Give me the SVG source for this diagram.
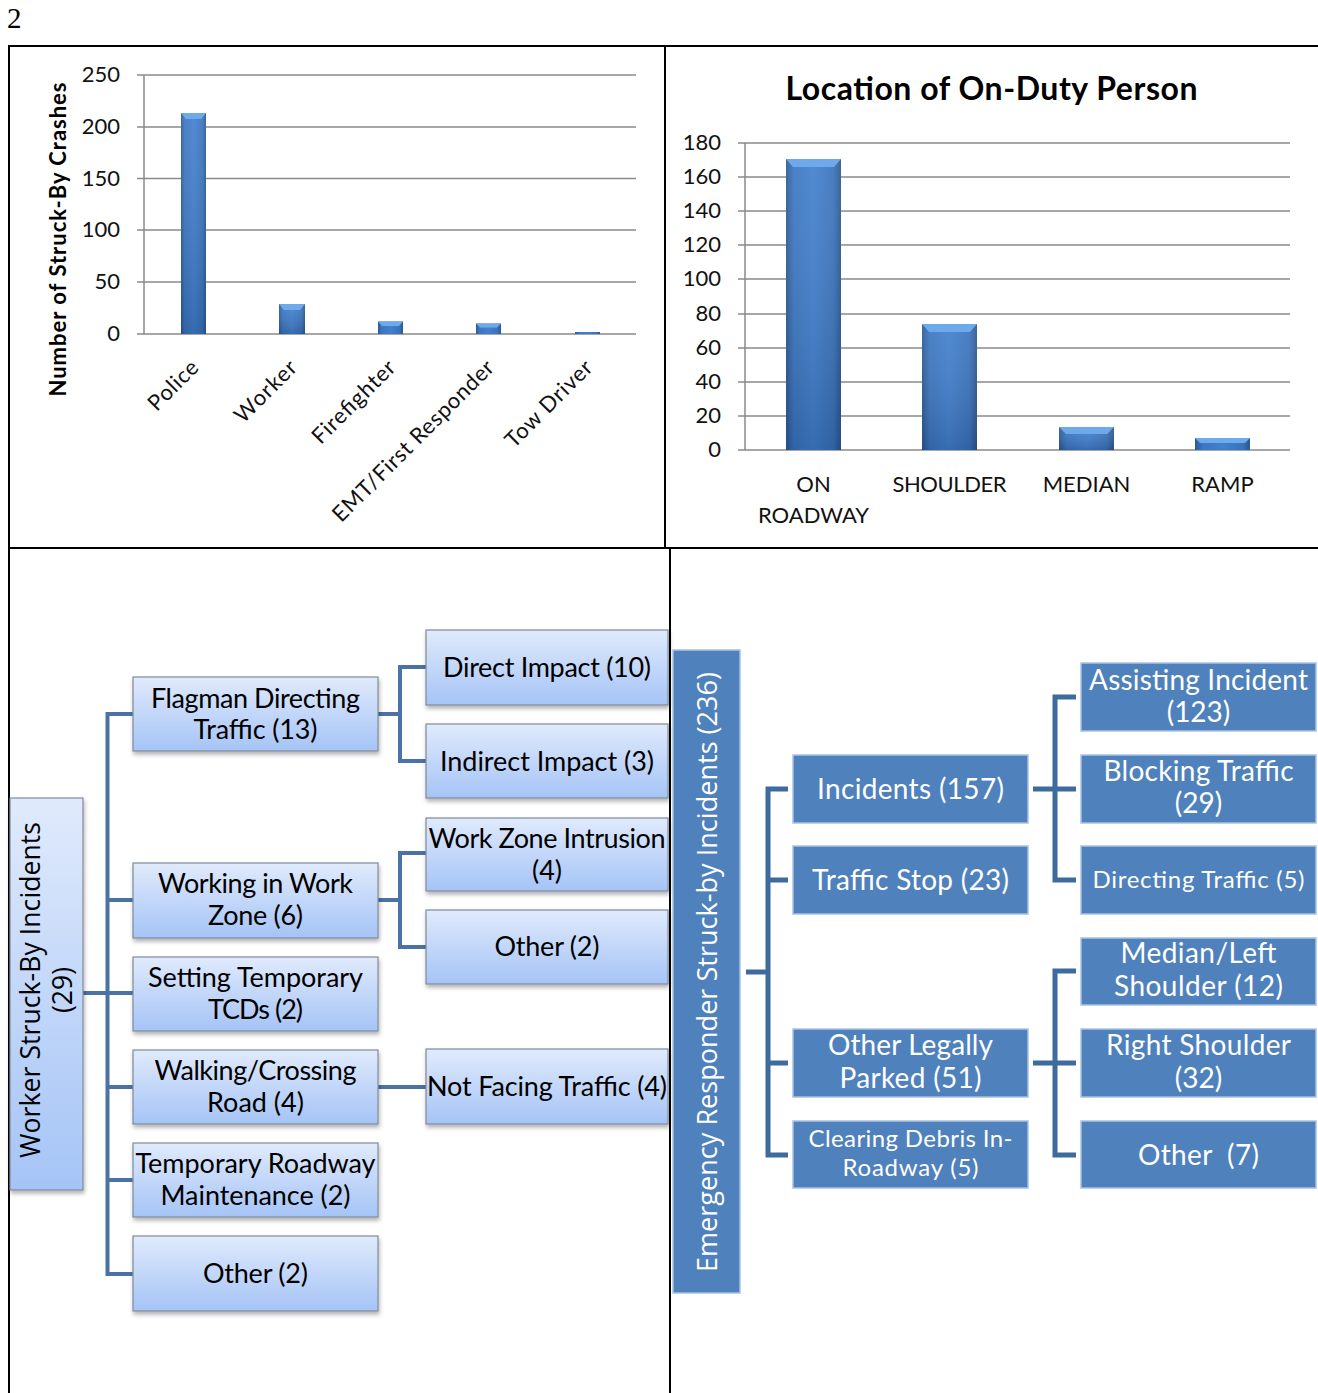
<svg xmlns="http://www.w3.org/2000/svg" width="1318" height="1393" viewBox="0 0 1318 1393">
<defs>
<style>
.frame{stroke:#000;stroke-width:2;fill:none}
.grid{stroke:#8a8a8a;stroke-width:1.5;fill:none}
.tick{font-family:Lato,"Liberation Sans",sans-serif;font-size:22px;fill:#111;text-anchor:end}
.cat{font-family:Lato,"Liberation Sans",sans-serif;font-size:22px;fill:#111}
.bar{fill:url(#barH)}
.shade{fill:url(#barV)}
.bev{fill:#6ea9ec}
.lbox rect{fill:url(#lg);stroke:#7f8a9a;stroke-width:1.2;filter:url(#sh)}
.ltxt{font-family:Lato,"Liberation Sans",sans-serif;font-size:27px;fill:#000;text-anchor:middle}
.rbox rect{fill:#4f81bd;stroke:#a9c2e2;stroke-width:1.5}
.rtxt{font-family:Lato,"Liberation Sans",sans-serif;font-size:28px;fill:#fff;text-anchor:middle}
.rsm{font-size:24px}
.vroot{font-family:"Open Sans","DejaVu Sans",sans-serif;text-anchor:middle}
.lconn{stroke:#4a72a6;stroke-width:4;fill:none}
.rconn{stroke:#3e6b9e;stroke-width:5;fill:none}
</style>
<linearGradient id="barH" x1="0" y1="0" x2="1" y2="0">
<stop offset="0" stop-color="#2c5a93"/><stop offset="0.14" stop-color="#3b76c0"/><stop offset="0.5" stop-color="#4280cd"/><stop offset="0.86" stop-color="#3a73bb"/><stop offset="1" stop-color="#2b5890"/>
</linearGradient>
<linearGradient id="barV" x1="0" y1="0" x2="0" y2="1">
<stop offset="0" stop-color="#ffffff" stop-opacity="0.08"/><stop offset="1" stop-color="#001030" stop-opacity="0.18"/>
</linearGradient>
<linearGradient id="lg" x1="0" y1="0" x2="0" y2="1">
<stop offset="0" stop-color="#e0eafc"/><stop offset="1" stop-color="#a5c4f6"/>
</linearGradient>
<filter id="sh" x="-10%" y="-10%" width="130%" height="140%">
<feDropShadow dx="1" dy="3" stdDeviation="2" flood-color="#000" flood-opacity="0.3"/>
</filter>
</defs>

<rect x="0" y="0" width="1318" height="1393" fill="#fff"/>
<text x="7" y="28" font-family="Liberation Serif, serif" font-size="29" fill="#000">2</text>

<g id="frame" class="frame">
<path d="M8,46 H1318 M9,46 V1393 M665,46 V548 M8,548 H1318 M670,548 V1393"/>
</g>

<g id="chart-left">
<path class="grid" d="M137,75 H636 M137,127 H636 M137,178.5 H636 M137,230 H636 M137,282 H636 M137,334 H636 M144,75 V334"/>
<text class="tick" x="120" y="82">250</text>
<text class="tick" x="120" y="134">200</text>
<text class="tick" x="120" y="185.5">150</text>
<text class="tick" x="120" y="237">100</text>
<text class="tick" x="120" y="289">50</text>
<text class="tick" x="120" y="341">0</text>
<rect class="bar" x="181" y="113" width="25" height="221"/><rect class="shade" x="181" y="113" width="25" height="221"/><polygon class="bev" points="181,113 206,113 201,119 186,119"/>
<rect class="bar" x="279" y="304" width="26" height="30"/><rect class="shade" x="279" y="304" width="26" height="30"/><polygon class="bev" points="279,304 305,304 300,310 284,310"/>
<rect class="bar" x="378" y="321.5" width="25" height="12.5"/><polygon class="bev" points="378,321.5 403,321.5 399,326 382,326"/>
<rect class="bar" x="476" y="323.5" width="25" height="10.5"/><polygon class="bev" points="476,323.5 501,323.5 497,327.5 480,327.5"/>
<rect class="bar" x="575" y="332" width="25" height="2"/>
<text class="cat" text-anchor="end" textLength="61" transform="translate(200,369) rotate(-45)">Police</text>
<text class="cat" text-anchor="end" textLength="78" transform="translate(298.5,369) rotate(-45)">Worker</text>
<text class="cat" text-anchor="end" textLength="108" transform="translate(397,369) rotate(-45)">Firefighter</text>
<text class="cat" text-anchor="end" textLength="218" transform="translate(495.5,369) rotate(-45)">EMT/First Responder</text>
<text class="cat" text-anchor="end" textLength="113" transform="translate(594,369) rotate(-45)">Tow Driver</text>
<text font-family="Lato,'Liberation Sans',sans-serif" font-weight="bold" font-size="22" fill="#000" text-anchor="middle" textLength="314" transform="translate(66,239.5) rotate(-90)">Number of Struck-By Crashes</text>
</g>

<g id="chart-right">
<text x="991.5" y="100" font-family="Lato,'Liberation Sans',sans-serif" font-weight="bold" font-size="32" fill="#000" text-anchor="middle" textLength="412">Location of On-Duty Person</text>
<path class="grid" d="M738,143 H1290 M738,177 H1290 M738,211 H1290 M738,245 H1290 M738,279 H1290 M738,314 H1290 M738,348 H1290 M738,382 H1290 M738,416 H1290 M738,450 H1290 M745,143 V450"/>
<text class="tick" x="721" y="150">180</text>
<text class="tick" x="721" y="184">160</text>
<text class="tick" x="721" y="218">140</text>
<text class="tick" x="721" y="252">120</text>
<text class="tick" x="721" y="286">100</text>
<text class="tick" x="721" y="321">80</text>
<text class="tick" x="721" y="355">60</text>
<text class="tick" x="721" y="389">40</text>
<text class="tick" x="721" y="423">20</text>
<text class="tick" x="721" y="457">0</text>
<rect class="bar" x="786" y="159" width="55" height="291"/><rect class="shade" x="786" y="159" width="55" height="291"/><polygon class="bev" points="786,159 841,159 834,167 793,167"/>
<rect class="bar" x="922" y="324" width="55" height="126"/><rect class="shade" x="922" y="324" width="55" height="126"/><polygon class="bev" points="922,324 977,324 970,332 929,332"/>
<rect class="bar" x="1059" y="427" width="55" height="23"/><rect class="shade" x="1059" y="427" width="55" height="23"/><polygon class="bev" points="1059,427 1114,427 1107,434 1066,434"/>
<rect class="bar" x="1195" y="438" width="55" height="12"/><polygon class="bev" points="1195,438 1250,438 1245,443 1200,443"/>
<text class="cat" x="813.5" y="492" text-anchor="middle">ON</text>
<text class="cat" x="813.5" y="523" text-anchor="middle">ROADWAY</text>
<text class="cat" x="949.5" y="492" text-anchor="middle" textLength="114">SHOULDER</text>
<text class="cat" x="1086.5" y="492" text-anchor="middle">MEDIAN</text>
<text class="cat" x="1222.5" y="492" text-anchor="middle">RAMP</text>
</g>

<g id="connectors-left" class="lconn">
<path d="M83,993 H133"/>
<path d="M107.5,712 V1276"/>
<path d="M107.5,714 H133 M107.5,900 H133 M107.5,1087 H133 M107.5,1180 H133 M107.5,1274 H133"/>
<path d="M378,714 H400 M426,667 H400 V761 H426"/>
<path d="M378,900 H400 M426,853 H400 V947 H426"/>
<path d="M378,1087 H426"/>
</g>

<g id="connectors-right" class="rconn">
<path d="M746,972 H768"/>
<path d="M788,789 H768 V1155 H788 M768,880 H788 M768,1063 H788"/>
<path d="M1033,789 H1055 M1076,697 H1055 V880 H1076 M1055,789 H1076"/>
<path d="M1033,1063 H1055 M1076,971 H1055 V1155 H1076 M1055,1063 H1076"/>
</g>

<g id="worker-root" class="lbox">
<rect x="10" y="798" width="73" height="392"/>
<text class="vroot" font-size="26.5" fill="#000" textLength="336" transform="translate(40,990) rotate(-90)">Worker Struck-By Incidents</text>
<text class="vroot" font-size="26.5" fill="#000" transform="translate(72,990) rotate(-90)">(29)</text>
</g>

<g id="flagman" class="lbox">
<rect x="133" y="677" width="245" height="74"/>
<text class="ltxt" x="255.5" y="708" textLength="209">Flagman Directing</text>
<text class="ltxt" x="255.5" y="739" textLength="124">Traffic (13)</text>
</g>
<g id="working-zone" class="lbox">
<rect x="133" y="863" width="245" height="75"/>
<text class="ltxt" x="255.5" y="893" textLength="195">Working in Work</text>
<text class="ltxt" x="255.5" y="925" textLength="95">Zone (6)</text>
</g>
<g id="setting-tcds" class="lbox">
<rect x="133" y="957" width="245" height="74"/>
<text class="ltxt" x="255.5" y="987" textLength="215">Setting Temporary</text>
<text class="ltxt" x="255.5" y="1019" textLength="95">TCDs (2)</text>
</g>
<g id="walking" class="lbox">
<rect x="133" y="1050" width="245" height="74"/>
<text class="ltxt" x="255.5" y="1080" textLength="202">Walking/Crossing</text>
<text class="ltxt" x="255.5" y="1112" textLength="97">Road (4)</text>
</g>
<g id="temp-roadway" class="lbox">
<rect x="133" y="1143" width="245" height="74"/>
<text class="ltxt" x="255.5" y="1173" textLength="240">Temporary Roadway</text>
<text class="ltxt" x="255.5" y="1205" textLength="190">Maintenance (2)</text>
</g>
<g id="worker-other" class="lbox">
<rect x="133" y="1236" width="245" height="75"/>
<text class="ltxt" x="255.5" y="1283" textLength="105">Other (2)</text>
</g>

<g id="direct-impact" class="lbox">
<rect x="426" y="630" width="242" height="75"/>
<text class="ltxt" x="547" y="677" textLength="208">Direct Impact (10)</text>
</g>
<g id="indirect-impact" class="lbox">
<rect x="426" y="724" width="242" height="74"/>
<text class="ltxt" x="547" y="771" textLength="214">Indirect Impact (3)</text>
</g>
<g id="wz-intrusion" class="lbox">
<rect x="426" y="818" width="242" height="73"/>
<text class="ltxt" x="547" y="848" textLength="237">Work Zone Intrusion</text>
<text class="ltxt" x="547" y="880">(4)</text>
</g>
<g id="wz-other" class="lbox">
<rect x="426" y="910" width="242" height="74"/>
<text class="ltxt" x="547" y="956" textLength="105">Other (2)</text>
</g>
<g id="not-facing" class="lbox">
<rect x="426" y="1049" width="242" height="75"/>
<text class="ltxt" x="547" y="1096" textLength="240">Not Facing Traffic (4)</text>
</g>

<g id="er-root" class="rbox">
<rect x="673" y="650" width="67" height="643"/>
<text class="vroot" font-size="27" fill="#fff" textLength="600" transform="translate(717,972) rotate(-90)">Emergency Responder Struck-by Incidents (236)</text>
</g>

<g id="incidents" class="rbox">
<rect x="793" y="755" width="235" height="68"/>
<text class="rtxt" x="910.5" y="799" textLength="187">Incidents (157)</text>
</g>
<g id="traffic-stop" class="rbox">
<rect x="793" y="846" width="235" height="68"/>
<text class="rtxt" x="910.5" y="890" textLength="197">Traffic Stop (23)</text>
</g>
<g id="legally-parked" class="rbox">
<rect x="793" y="1029" width="235" height="68"/>
<text class="rtxt" x="910.5" y="1055" textLength="165">Other Legally</text>
<text class="rtxt" x="910.5" y="1088" textLength="142">Parked (51)</text>
</g>
<g id="clearing-debris" class="rbox">
<rect x="793" y="1121" width="235" height="67"/>
<text class="rtxt rsm" x="910.5" y="1147" textLength="204">Clearing Debris In-</text>
<text class="rtxt rsm" x="910.5" y="1176" textLength="136">Roadway (5)</text>
</g>

<g id="assisting" class="rbox">
<rect x="1081" y="663" width="235" height="68"/>
<text class="rtxt" x="1198.5" y="690" textLength="219">Assisting Incident</text>
<text class="rtxt" x="1198.5" y="722">(123)</text>
</g>
<g id="blocking" class="rbox">
<rect x="1081" y="755" width="235" height="68"/>
<text class="rtxt" x="1198.5" y="781" textLength="190">Blocking Traffic</text>
<text class="rtxt" x="1198.5" y="813">(29)</text>
</g>
<g id="directing" class="rbox">
<rect x="1081" y="846" width="235" height="68"/>
<text class="rtxt rsm" x="1198.5" y="888" textLength="212">Directing Traffic (5)</text>
</g>
<g id="median-left" class="rbox">
<rect x="1081" y="938" width="235" height="67"/>
<text class="rtxt" x="1198.5" y="963" textLength="156">Median/Left</text>
<text class="rtxt" x="1198.5" y="996" textLength="169">Shoulder (12)</text>
</g>
<g id="right-shoulder" class="rbox">
<rect x="1081" y="1029" width="235" height="68"/>
<text class="rtxt" x="1198.5" y="1055" textLength="185">Right Shoulder</text>
<text class="rtxt" x="1198.5" y="1088">(32)</text>
</g>
<g id="er-other" class="rbox">
<rect x="1081" y="1121" width="235" height="67"/>
<text class="rtxt" x="1198.5" y="1165" textLength="121" xml:space="preserve">Other  (7)</text>
</g>
</svg>
